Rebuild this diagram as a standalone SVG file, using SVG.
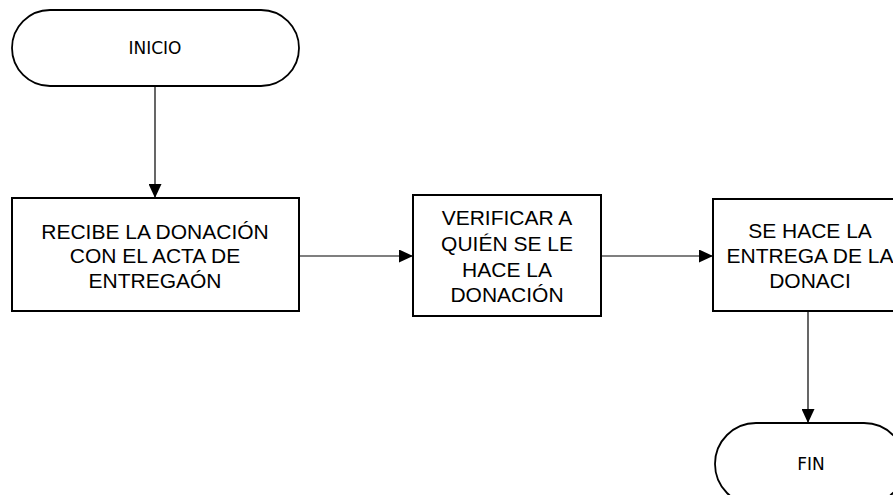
<svg xmlns="http://www.w3.org/2000/svg" width="893" height="495" viewBox="0 0 893 495">
<defs>
<marker id="arr" markerWidth="14" markerHeight="13" refX="14" refY="6.5" orient="auto" markerUnits="userSpaceOnUse">
<path d="M0,0 L14,6.5 L0,13 Z" fill="#000"/>
</marker>
<style>
.term{fill:#fff;stroke:#000;stroke-width:1.8}
.box{fill:#fff;stroke:#000;stroke-width:2}
.tt{font-family:"DejaVu Sans",sans-serif;font-size:17px;fill:#000;text-anchor:middle}
.bt{font-family:"Liberation Sans",Arial,sans-serif;font-size:21px;fill:#000;text-anchor:middle}
.con{stroke:#000;stroke-width:1.2;fill:none}
</style>
</defs>
<rect width="893" height="495" fill="#fff"/>
<g id="connectors">
<line class="con" x1="155" y1="86" x2="155" y2="198" marker-end="url(#arr)"/>
<line class="con" x1="299" y1="256" x2="413" y2="256" marker-end="url(#arr)"/>
<line class="con" x1="601" y1="256" x2="713" y2="256" marker-end="url(#arr)"/>
<line class="con" x1="808" y1="311" x2="808" y2="423" marker-end="url(#arr)"/>
</g>
<g id="inicio">
<rect class="term" x="12" y="10" width="287" height="76" rx="38" ry="38"/>
<text class="tt" x="155" y="54">INICIO</text>
</g>
<g id="recibe">
<rect class="box" x="12" y="198" width="287" height="113"/>
<text class="bt" x="155" y="239">RECIBE LA DONACIÓN</text>
<text class="bt" x="155" y="263">CON EL ACTA DE</text>
<text class="bt" x="155" y="288">ENTREGAÓN</text>
</g>
<g id="verificar">
<rect class="box" x="413" y="195" width="188" height="121"/>
<text class="bt" x="507" y="225">VERIFICAR A</text>
<text class="bt" x="507" y="251">QUIÉN SE LE</text>
<text class="bt" x="507" y="277">HACE LA</text>
<text class="bt" x="507" y="302">DONACIÓN</text>
</g>
<g id="entrega">
<rect class="box" x="713" y="199" width="194" height="112"/>
<text class="bt" x="810" y="238">SE HACE LA</text>
<text class="bt" x="810" y="263">ENTREGA DE LA</text>
<text class="bt" x="810" y="288">DONACI</text>
</g>
<g id="fin">
<rect class="term" x="715" y="423" width="190" height="82" rx="41" ry="41"/>
<text class="tt" x="811" y="470">FIN</text>
</g>
</svg>
